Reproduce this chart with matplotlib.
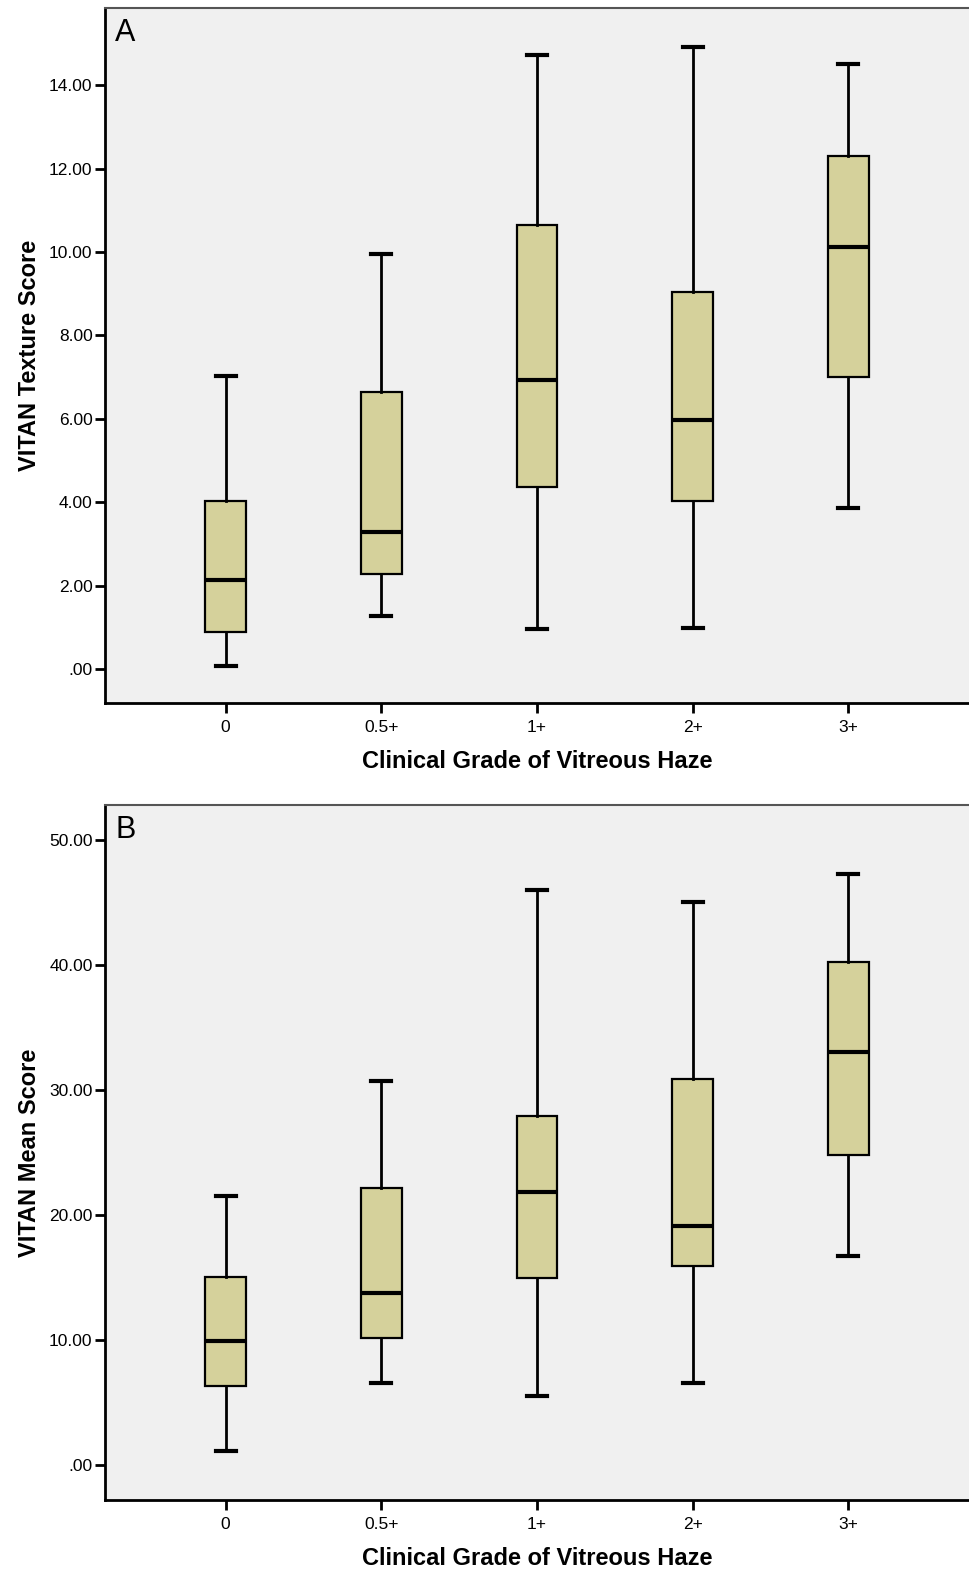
import matplotlib
matplotlib.use("Agg")
import matplotlib.pyplot as plt

plt.rcParams['font.family'] = ['Liberation Sans', 'DejaVu Sans']

grades = ['0', '0.5+', '1+', '2+', '3+']

# panel A - VITAN texture score
tex_low = [0.08, 1.27, 0.97, 0.98, 3.86]
tex_q1 = [0.88, 2.28, 4.37, 4.03, 7.00]
tex_med = [2.13, 3.29, 6.93, 5.97, 10.12]
tex_q3 = [4.03, 6.63, 10.65, 9.03, 12.30]
tex_high = [7.03, 9.95, 14.72, 14.92, 14.50]

# panel B - VITAN mean score
mean_low = [1.1, 6.5, 5.5, 6.5, 16.7]
mean_q1 = [6.3, 10.1, 14.9, 15.9, 24.8]
mean_med = [9.9, 13.7, 21.8, 19.1, 33.0]
mean_q3 = [15.0, 22.1, 27.9, 30.9, 40.2]
mean_high = [21.5, 30.7, 46.0, 45.0, 47.3]

box_fill = '#d5d19b'
bg = '#f0f0f0'


def make_stats(low, q1, med, q3, high):
    stats = []
    for i in range(len(grades)):
        stats.append(dict(whislo=low[i], q1=q1[i], med=med[i], q3=q3[i],
                          whishi=high[i], fliers=[], label=grades[i]))
    return stats


def draw_panel(ax, stats, ylim, ticks, ylabel, letter):
    ax.set_facecolor(bg)
    ax.bxp(stats, positions=range(len(grades)), widths=0.26,
           patch_artist=True, showfliers=False,
           boxprops=dict(facecolor=box_fill, edgecolor='black', linewidth=1.6),
           medianprops=dict(color='black', linewidth=3),
           whiskerprops=dict(color='black', linewidth=2),
           capprops=dict(color='black', linewidth=3),
           capwidths=0.13)
    ax.set_xlim(-0.775, 4.775)
    ax.set_ylim(*ylim)
    ax.set_yticks(ticks)
    ax.set_yticklabels(['.00' if t == 0 else '%.2f' % t for t in ticks])
    ax.set_xticks(range(len(grades)))
    ax.set_xticklabels(grades)
    ax.tick_params(axis='both', labelsize=12.5, width=2, length=7, color='black')
    ax.tick_params(axis='y', pad=2)
    ax.tick_params(axis='x', pad=5)
    ax.spines['right'].set_visible(False)
    ax.spines['top'].set_color('#555555')
    ax.spines['top'].set_linewidth(1.5)
    ax.spines['left'].set_linewidth(2)
    ax.spines['bottom'].set_linewidth(2)
    ax.set_xlabel('Clinical Grade of Vitreous Haze', fontsize=17,
                  fontweight='bold', labelpad=11)
    ax.set_ylabel(ylabel, fontsize=17, fontweight='bold', labelpad=6)
    ax.text(0.012, 0.985, letter, transform=ax.transAxes, fontsize=22,
            va='top', ha='left')


fig = plt.figure(figsize=(9.69, 15.74), dpi=100)
axA = fig.add_axes([0.1084, 0.5534, 0.8916, 0.4415])
axB = fig.add_axes([0.1084, 0.0470, 0.8916, 0.4416])

draw_panel(axA, make_stats(tex_low, tex_q1, tex_med, tex_q3, tex_high),
           (-0.815, 15.85), [0, 2, 4, 6, 8, 10, 12, 14],
           'VITAN Texture Score', 'A')
draw_panel(axB, make_stats(mean_low, mean_q1, mean_med, mean_q3, mean_high),
           (-2.84, 52.8), [0, 10, 20, 30, 40, 50],
           'VITAN Mean Score', 'B')

fig.savefig('out.png', dpi=100, facecolor='white')
